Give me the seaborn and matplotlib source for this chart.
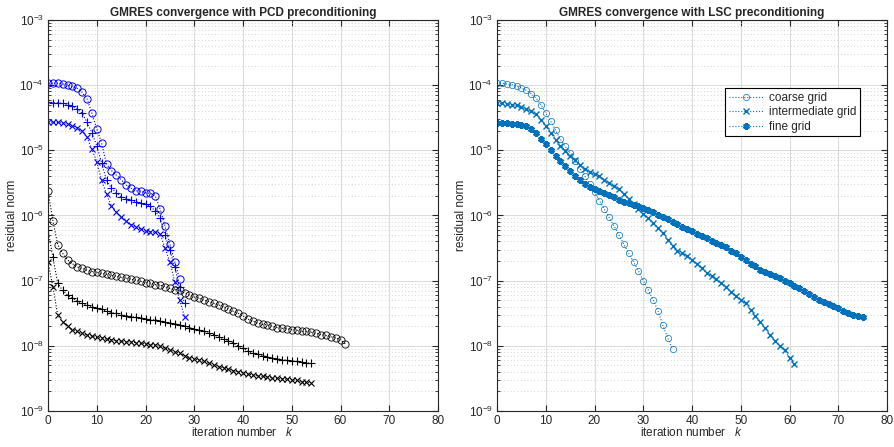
import numpy as np
import pandas as pd
import matplotlib
matplotlib.use('Agg')
import matplotlib.pyplot as plt
import matplotlib.ticker as mticker
import seaborn as sns

# residual norms (log10 values)
pcd_coarse_fine = [-3.97, -3.97, -3.97, -3.98, -4.00, -4.02, -4.05, -4.11, -4.21, -4.43,
                   -4.67, -4.89, -5.21, -5.31, -5.38, -5.45, -5.53, -5.58, -5.62, -5.63,
                   -5.65, -5.66, -5.70, -5.90, -6.16, -6.44, -6.71, -6.97]
pcd_inter_blue = [-4.26, -4.27, -4.27, -4.28, -4.30, -4.32, -4.37, -4.43, -4.57, -4.73,
                  -4.93, -5.19, -5.46, -5.58, -5.65, -5.71, -5.74, -5.76, -5.79, -5.81,
                  -5.83, -5.86, -5.93, -6.04, -6.30, -6.53, -6.79, -7.10, -7.34]
pcd_fine_blue = [-4.56, -4.57, -4.57, -4.58, -4.60, -4.62, -4.65, -4.70, -4.80, -4.98,
                 -5.18, -5.46, -5.67, -5.85, -5.95, -6.02, -6.08, -6.14, -6.18, -6.21,
                 -6.24, -6.25, -6.26, -6.28, -6.50, -6.71, -7.02, -7.30, -7.55]

pcd_coarse_black = [-5.62, -6.08, -6.45, -6.58, -6.68, -6.74, -6.79, -6.81, -6.84, -6.86,
                    -6.87, -6.89, -6.90, -6.92, -6.93, -6.95, -6.96, -6.98, -6.99, -7.01,
                    -7.03, -7.04, -7.06, -7.07, -7.09, -7.12, -7.14, -7.15, -7.19, -7.22,
                    -7.25, -7.27, -7.30, -7.32, -7.35, -7.37, -7.40, -7.44, -7.47, -7.50,
                    -7.54, -7.59, -7.62, -7.65, -7.67, -7.68, -7.70, -7.72, -7.73, -7.74,
                    -7.75, -7.76, -7.78, -7.78, -7.79, -7.81, -7.83, -7.84, -7.86, -7.88,
                    -7.91, -7.97]
pcd_inter_black = [-6.23, -6.64, -7.04, -7.15, -7.22, -7.27, -7.31, -7.35, -7.37, -7.40,
                   -7.42, -7.44, -7.47, -7.49, -7.50, -7.52, -7.54, -7.55, -7.56, -7.57,
                   -7.59, -7.60, -7.60, -7.62, -7.63, -7.65, -7.66, -7.68, -7.70, -7.72,
                   -7.74, -7.76, -7.78, -7.81, -7.83, -7.86, -7.89, -7.92, -7.96, -8.00,
                   -8.04, -8.08, -8.11, -8.13, -8.15, -8.17, -8.19, -8.20, -8.21, -8.22,
                   -8.23, -8.24, -8.25, -8.26, -8.27]
pcd_fine_black = [-6.71, -7.09, -7.53, -7.63, -7.70, -7.75, -7.78, -7.81, -7.83, -7.85,
                  -7.87, -7.88, -7.90, -7.91, -7.92, -7.93, -7.94, -7.94, -7.95, -7.96,
                  -7.97, -7.98, -7.99, -8.01, -8.04, -8.06, -8.09, -8.11, -8.15, -8.18,
                  -8.20, -8.22, -8.24, -8.27, -8.29, -8.32, -8.34, -8.36, -8.38, -8.40,
                  -8.41, -8.43, -8.45, -8.46, -8.47, -8.48, -8.49, -8.50, -8.51, -8.51,
                  -8.52, -8.53, -8.55, -8.56, -8.57]

lsc_coarse = [-3.97, -3.97, -3.98, -3.99, -4.01, -4.04, -4.08, -4.13, -4.20, -4.30,
              -4.43, -4.55, -4.69, -4.83, -4.94, -5.04, -5.16, -5.28, -5.39, -5.52,
              -5.64, -5.77, -5.90, -6.03, -6.16, -6.30, -6.44, -6.58, -6.71, -6.85,
              -7.00, -7.14, -7.29, -7.46, -7.68, -7.88, -8.05]
lsc_inter = [-4.28, -4.28, -4.29, -4.30, -4.31, -4.34, -4.37, -4.40, -4.44, -4.53,
             -4.63, -4.73, -4.84, -4.94, -5.01, -5.08, -5.15, -5.22, -5.28, -5.33,
             -5.37, -5.40, -5.45, -5.50, -5.55, -5.60, -5.67, -5.75, -5.83, -5.90,
             -5.97, -6.04, -6.11, -6.19, -6.27, -6.38, -6.47, -6.54, -6.58, -6.62,
             -6.68, -6.74, -6.81, -6.88, -6.93, -6.98, -7.04, -7.10, -7.17, -7.24,
             -7.29, -7.35, -7.45, -7.54, -7.63, -7.73, -7.83, -7.92, -8.00, -8.07,
             -8.18, -8.28]
lsc_fine = [-4.58, -4.58, -4.58, -4.59, -4.60, -4.61, -4.63, -4.67, -4.73, -4.83,
            -4.90, -5.00, -5.08, -5.16, -5.24, -5.32, -5.39, -5.46, -5.52, -5.56,
            -5.59, -5.62, -5.65, -5.69, -5.72, -5.76, -5.79, -5.81, -5.84, -5.86,
            -5.89, -5.92, -5.95, -5.99, -6.03, -6.06, -6.10, -6.13, -6.17, -6.21,
            -6.24, -6.28, -6.31, -6.35, -6.39, -6.42, -6.46, -6.49, -6.54, -6.58,
            -6.63, -6.68, -6.74, -6.78, -6.83, -6.87, -6.90, -6.93, -6.96, -7.00,
            -7.04, -7.08, -7.12, -7.16, -7.20, -7.25, -7.29, -7.33, -7.36, -7.39,
            -7.42, -7.46, -7.49, -7.52, -7.54, -7.56]

legend_labels = ['coarse grid', 'intermediate grid', 'fine grid']
titles = ['GMRES convergence with PCD preconditioning',
          'GMRES convergence with LSC preconditioning']
y_ticks = [1e-9, 1e-8, 1e-7, 1e-6, 1e-5, 1e-4, 1e-3]

sns.set_style('ticks')
plt.rcParams['font.family'] = ['Liberation Sans', 'DejaVu Sans']
plt.rcParams['mathtext.fontset'] = 'custom'
plt.rcParams['mathtext.rm'] = 'Liberation Sans'
plt.rcParams['mathtext.it'] = 'Liberation Sans:italic'

fig = plt.figure(figsize=(8.95, 4.47), dpi=100)
ax1 = fig.add_axes([48 / 895, 36 / 447, 390 / 895, 391 / 447])
ax2 = fig.add_axes([497 / 895, 36 / 447, 390 / 895, 391 / 447])

mblue = '#0072BD'


def draw(ax, vals, color, marker, ms, mew=0.8, label=None, mfc='none'):
    k = np.arange(len(vals))
    sns.lineplot(x=k, y=10 ** np.array(vals), ax=ax, color=color, linestyle=':',
                 linewidth=0.8, marker=marker, markersize=ms, markeredgewidth=mew,
                 markerfacecolor=mfc, markeredgecolor=color, label=label)


# PCD
draw(ax1, pcd_coarse_fine, 'blue', 'o', 5.2, mew=0.7)
draw(ax1, pcd_inter_blue, 'blue', '+', 5.5)
draw(ax1, pcd_fine_blue, 'blue', 'x', 4.2)
draw(ax1, pcd_coarse_black, 'black', 'o', 5.2, mew=0.6)
draw(ax1, pcd_inter_black, 'black', '+', 5.5)
draw(ax1, pcd_fine_black, 'black', 'x', 4.2)

# LSC
draw(ax2, lsc_coarse, mblue, 'o', 4.5, mew=0.5, label=legend_labels[0])
draw(ax2, lsc_inter, mblue, 'x', 3.8, mew=1.0, label=legend_labels[1])
draw(ax2, lsc_fine, mblue, (6, 2, 0), 4.8, mew=1.6, label=legend_labels[2])

for ax, t in zip([ax1, ax2], titles):
    ax.set_yscale('log')
    ax.set_xlim(0, 80)
    ax.set_ylim(1e-9, 1e-3)
    ax.set_xticks(range(0, 81, 10))
    ax.set_yticks(y_ticks)
    ax.yaxis.set_minor_locator(mticker.LogLocator(base=10, subs=np.arange(2, 10), numticks=20))
    ax.yaxis.set_minor_formatter(mticker.NullFormatter())
    ax.set_ylim(1e-9, 1e-3)
    ax.grid(True, which='major', color='#dcdcdc', linewidth=0.8, linestyle='-')
    ax.grid(True, which='minor', axis='y', color='#c8c8c8', linewidth=0.6, linestyle=(0, (1, 3)))
    ax.set_axisbelow(True)
    ax.tick_params(which='both', direction='in', top=True, right=True, labelsize=8.5,
                   color='#262626', pad=3)
    ax.tick_params(which='major', length=4)
    ax.tick_params(which='minor', length=2)
    for s in ax.spines.values():
        s.set_visible(True)
        s.set_color('#262626')
        s.set_linewidth(0.8)
    ax.set_title(t, fontsize=8.5, fontweight='bold', pad=3)
    ax.set_xlabel('iteration number   $k$', fontsize=8.5, labelpad=-1)
    ax.set_ylabel('residual norm', fontsize=8.5, labelpad=1)

if ax1.get_legend() is not None:
    ax1.get_legend().remove()
leg = ax2.legend(loc='upper right', bbox_to_anchor=(0.945, 0.84), fontsize=8.5,
                 frameon=True, fancybox=False, edgecolor='black', framealpha=1,
                 handlelength=3, borderpad=0.3, labelspacing=0.2, handletextpad=0.4)
leg.get_frame().set_linewidth(0.8)

fig.savefig('out.png', dpi=100)
